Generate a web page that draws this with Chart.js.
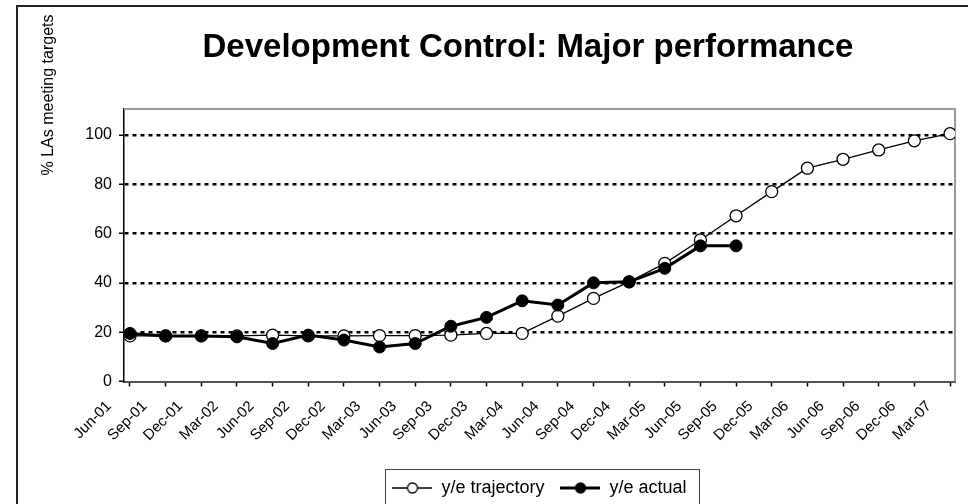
<!DOCTYPE html>
<html>
<head>
<meta charset="utf-8">
<script src="https://cdn.jsdelivr.net/npm/chart.js@4.4.1/dist/chart.umd.min.js"></script>
<style>
  html, body { margin: 0; padding: 0; background: #fff; }
  #wrap { width: 968px; height: 504px; position: relative; overflow: hidden; }
</style>
</head>
<body>
<div id="wrap"><canvas id="lineChart" width="968" height="504"></canvas></div>
<script>
const quarters = ['Jun-01', 'Sep-01', 'Dec-01', 'Mar-02', 'Jun-02', 'Sep-02', 'Dec-02', 'Mar-03',
  'Jun-03', 'Sep-03', 'Dec-03', 'Mar-04', 'Jun-04', 'Sep-04', 'Dec-04', 'Mar-05',
  'Jun-05', 'Sep-05', 'Dec-05', 'Mar-06', 'Jun-06', 'Sep-06', 'Dec-06', 'Mar-07'];
const trajectory = [18.5, 18.5, 18.5, 18.5, 18.8, 18.5, 18.5, 18.6, 18.6, 18.8, 19.5, 19.5,
  26.5, 33.7, 40.4, 47.9, 57.4, 67.2, 77.0, 86.5, 90.1, 93.9, 97.6, 100.5];
const actual = [19.5, 18.5, 18.5, 18.1, 15.4, 18.8, 16.8, 14.0, 15.4, 22.4, 26.0, 32.7,
  31.0, 40.0, 40.4, 45.9, 55.0, 55.0];
const yTicks = [0, 20, 40, 60, 80, 100];

const FONT = 'Arial, "Liberation Sans", sans-serif';
Chart.defaults.font.family = FONT;
Chart.defaults.color = '#000';

// little "line with marker" pictures for the legend
function legendMark(filled, lineW) {
  const c = document.createElement('canvas');
  c.width = 40; c.height = 14;
  const g = c.getContext('2d');
  g.strokeStyle = '#000';
  g.lineWidth = lineW;
  g.beginPath(); g.moveTo(0, 7); g.lineTo(40, 7); g.stroke();
  g.beginPath(); g.arc(20, 7, 5, 0, Math.PI * 2);
  g.fillStyle = filled ? '#000' : '#fff';
  g.fill();
  g.lineWidth = 1.3;
  g.stroke();
  return c;
}
const markTraj = legendMark(false, 1.3);
const markAct = legendMark(true, 3);

const framePlugin = {
  id: 'frame',
  beforeDatasetsDraw(chart) {
    const {ctx, chartArea: a} = chart;
    ctx.save();
    ctx.strokeStyle = '#9a9a9a';
    ctx.lineWidth = 2;
    ctx.beginPath();
    ctx.moveTo(a.left, a.top);
    ctx.lineTo(a.right, a.top);
    ctx.lineTo(a.right, a.bottom);
    ctx.stroke();
    ctx.restore();
  },
  afterDraw(chart) {
    const ctx = chart.ctx;
    ctx.save();
    // outer frame
    ctx.strokeStyle = '#222';
    ctx.lineWidth = 2;
    ctx.strokeRect(17, 6, 1000, 1000);

    // title
    ctx.fillStyle = '#000';
    ctx.font = 'bold 33px ' + FONT;
    ctx.textAlign = 'center';
    ctx.textBaseline = 'middle';
    ctx.fillText('Development Control: Major performance', 528, 48);

    // y axis title
    ctx.font = '16px ' + FONT;
    ctx.translate(49, 95);
    ctx.rotate(-Math.PI / 2);
    ctx.fillText('% LAs meeting targets', 0, 0);
    ctx.restore();

    // box round the legend
    const hb = chart.legend.legendHitBoxes;
    if (hb && hb.length) {
      const x0 = hb[0].left - 7;
      const x1 = hb[hb.length - 1].left + hb[hb.length - 1].width + 13;
      const y0 = hb[0].top + hb[0].height / 2 - 19;
      ctx.save();
      ctx.strokeStyle = '#444';
      ctx.lineWidth = 1;
      ctx.strokeRect(Math.round(x0) + 0.5, Math.round(y0) + 0.5, Math.round(x1 - x0), 35);
      ctx.restore();
    }
  }
};

const ctx = document.getElementById('lineChart');

new Chart(ctx, {
  type: 'line',
  data: {
    datasets: [{
      label: 'y/e trajectory',
      data: trajectory.map((v, i) => ({x: i, y: v})),
      borderColor: '#000',
      borderWidth: 1.3,
      pointRadius: 6,
      pointBackgroundColor: '#fff',
      pointBorderColor: '#000',
      pointBorderWidth: 1.3,
      tension: 0,
      order: 1
    }, {
      label: 'y/e actual',
      data: actual.map((v, i) => ({x: i, y: v})),
      borderColor: '#000',
      borderWidth: 3,
      pointRadius: 6,
      pointBackgroundColor: '#000',
      pointBorderColor: '#000',
      pointBorderWidth: 1,
      tension: 0,
      order: 0
    }]
  },
  options: {
    responsive: false,
    animation: false,
    layout: {
      padding: {top: 109, right: 13, bottom: -3, left: 0}
    },
    scales: {
      x: {
        type: 'linear',
        min: -0.168,
        max: 23.14,
        afterFit: (s) => {
          s.height = 81.5;
          s.paddingLeft = 0;
          s.paddingRight = 0;
        },
        border: {color: '#555', width: 2},
        grid: {
          drawOnChartArea: false,
          drawTicks: true,
          tickLength: 5,
          tickColor: '#000',
          tickWidth: 1.5
        },
        ticks: {
          stepSize: 1,
          includeBounds: false,
          maxTicksLimit: 30,
          autoSkip: false,
          minRotation: 45,
          maxRotation: 45,
          padding: 11,
          labelOffset: -21,
          font: {size: 15},
          callback: (v) => Number.isInteger(v) ? quarters[v] : ''
        }
      },
      y: {
        min: 0,
        max: 110.5,
        afterFit: (s) => { s.width = 124; },
        afterBuildTicks: (s) => { s.ticks = yTicks.map(v => ({value: v})); },
        border: {color: '#000', width: 1.5, dash: [4, 4]},
        grid: {
          color: (c) => (c.tick && c.tick.value === 0) ? 'rgba(0,0,0,0)' : '#000',
          lineWidth: 2.5,
          tickLength: 5,
          tickColor: '#000',
          tickWidth: 1.5,
          tickBorderDash: []
        },
        ticks: {
          padding: 7,
          font: {size: 16}
        }
      }
    },
    plugins: {
      title: {display: false},
      tooltip: {enabled: false},
      legend: {
        display: true,
        position: 'bottom',
        fullSize: false,
        labels: {
          usePointStyle: true,
          pointStyleWidth: 40,
          padding: 16,
          font: {size: 18},
          color: '#000',
          generateLabels: (chart) => [
            {text: 'y/e trajectory', pointStyle: markTraj, datasetIndex: 0, lineWidth: 0, fillStyle: '#fff', strokeStyle: '#000', fontColor: '#000'},
            {text: 'y/e actual', pointStyle: markAct, datasetIndex: 1, lineWidth: 0, fillStyle: '#000', strokeStyle: '#000', fontColor: '#000'}
          ]
        }
      }
    }
  },
  plugins: [framePlugin]
});
</script>
</body>
</html>
